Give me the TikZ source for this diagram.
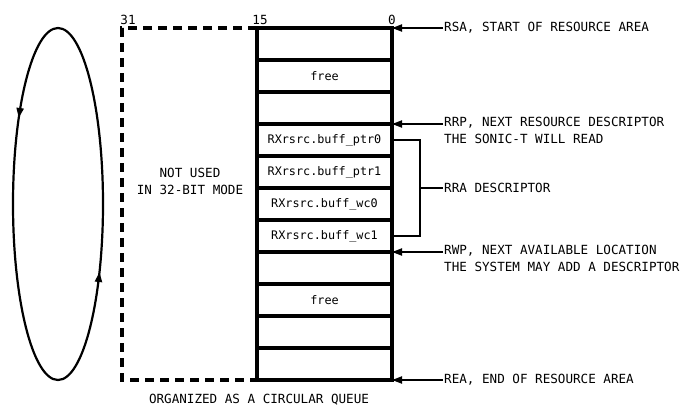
\documentclass[tikz,border=0pt]{standalone}
\usepackage{fontspec}
\setmainfont{DejaVu Sans Mono}
\usetikzlibrary{arrows.meta,positioning,calc,decorations.markings}

\begin{document}
\begin{tikzpicture}[x=1pt,y=-1pt,font=\fontsize{12.6}{17}\selectfont,
    cell/.style={draw,line width=3.2pt,minimum width=135pt,minimum height=32pt,
                 inner sep=0pt,outer sep=0pt,font=\fontsize{11.8}{14}\selectfont},
    unused/.style={line width=3.4pt,dash pattern=on 9pt off 6pt},
    ptr/.style={-{Triangle[length=10pt,width=7pt]},line width=2pt},
    note/.style={anchor=west,align=left,inner sep=1pt},
    lead/.style={line width=2pt}]
  \useasboundingbox (0,0) rectangle (686,410);
  \foreach \t [count=\i] in {{},free,{},RXrsrc.buff\_ptr0,RXrsrc.buff\_ptr1,
      RXrsrc.buff\_wc0,RXrsrc.buff\_wc1,{},free,{},{}}
    \node[cell] (r\i) at (324.5,{12+32*\i}) {\t};
  \draw[unused] (r1.north west) -- ++(-135,0) coordinate (corner) |- (r11.south west);
  \node[anchor=south,inner sep=3pt] at ($(corner)+(6,0)$) {31};
  \node[anchor=south,inner sep=3pt] at ($(r1.north west)+(3,0)$) {15};
  \node[anchor=south,inner sep=3pt] at (r1.north east) {0};
  \node[align=center] (nu) at (190,181) {NOT USED\\IN 32-BIT MODE};
  \node (cq) at (259,400) {ORGANIZED AS A CIRCULAR QUEUE};
  \node[note] (rsa) at (443,28) {RSA, START OF RESOURCE AREA};
  \node[note,anchor=north west] (rrp) at (443,116) {RRP, NEXT RESOURCE DESCRIPTOR\\THE SONIC-T WILL READ};
  \node[note] (rra) at (443,188) {RRA DESCRIPTOR};
  \node[note,anchor=north west] (rwp) at (443,244) {RWP, NEXT AVAILABLE LOCATION\\THE SYSTEM MAY ADD A DESCRIPTOR};
  \node[note] (rea) at (443,380) {REA, END OF RESOURCE AREA};
  \draw[ptr] (rsa.west) -- (r1.north east);
  \draw[ptr] (rrp.west |- r4.north east) -- (r4.north east);
  \draw[ptr] (rwp.west |- r8.north east) -- (r8.north east);
  \draw[ptr] (rea.west) -- (r11.south east);
  \draw[lead] (r4.east) -- ++(28,0) coordinate (br) |- (r7.east);
  \draw[lead] (br |- rra.west) -- (rra.west);
  \draw[line width=2.2pt,postaction={decorate},decoration={markings,
      mark=at position 0.386 with {\arrow{Triangle[length=10pt,width=7pt]}},
      mark=at position 0.91 with {\arrow{Triangle[length=10pt,width=7pt]}}}]
    (58,204) ellipse [x radius=45pt,y radius=176pt];
\end{tikzpicture}
\end{document}
